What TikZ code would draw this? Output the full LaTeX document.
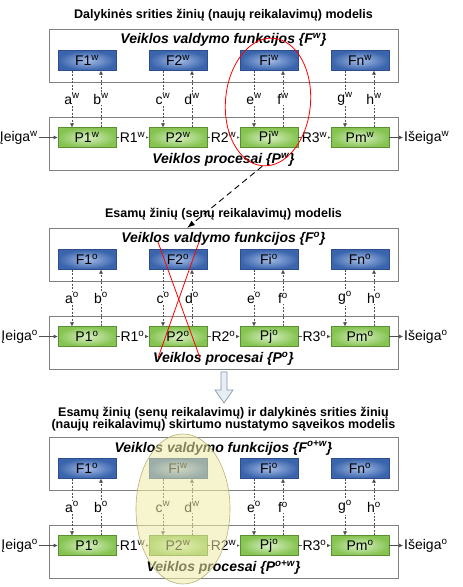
\documentclass[tikz,border=0pt]{standalone}
\usepackage{fontspec}
\setmainfont{Liberation Sans}
\usetikzlibrary{arrows.meta,shapes.geometric}

\newcommand\hsup[1]{\textsuperscript{#1}}

\definecolor{fdark}{HTML}{3A64AC}
\definecolor{flight}{HTML}{A4BCE6}
\definecolor{fborder}{HTML}{2C4E8C}
\definecolor{pdark}{HTML}{86C452}
\definecolor{plight}{HTML}{D8EFC2}
\definecolor{pborder}{HTML}{5E8E34}
\definecolor{boxgray}{HTML}{808080}
\definecolor{dashgray}{HTML}{505050}
\definecolor{ylw}{HTML}{F0ECA6}
\definecolor{ylwb}{HTML}{AFAC72}
\definecolor{arrfill}{HTML}{E8EEF5}
\definecolor{arrdraw}{HTML}{8796A8}

\tikzset{
  obox/.style={draw=boxgray, line width=0.8pt, fill=white, minimum width=349pt, minimum height=53pt, inner sep=0pt},
  fbox/.style={draw=fborder, line width=0.6pt, inner color=flight, outer color=fdark, minimum width=58pt, minimum height=19.5pt, inner sep=0pt, font=\fontsize{14}{14}\selectfont},
  pbox/.style={draw=pborder, line width=0.6pt, inner color=plight, outer color=pdark, minimum width=58pt, minimum height=19.5pt, inner sep=0pt, font=\fontsize{14}{14}\selectfont},
  lab/.style={fill=white, inner sep=0.8pt, font=\fontsize{14}{14}\selectfont},
  flowlab/.style={inner sep=1pt, font=\fontsize{14}{14}\selectfont},
  dl/.style={draw=dashgray, line width=0.5pt, dash pattern=on 2pt off 1.5pt, -{Latex[length=4pt,width=4pt]}},
  hl/.style={draw=dashgray, line width=0.6pt, -{Latex[length=4pt,width=4pt]}},
  titletext/.style={font=\bfseries\fontsize{12.5}{12}\selectfont, align=center},
  headtext/.style={font=\bfseries\itshape\fontsize{14}{14}\selectfont, inner sep=0pt},
}

% #1 section, #2 column, #3 x, #4 y offset, #5 F text, #6 P text, #7 down label, #8 up label
\newcommand\modelcol[8]{%
  \node[fbox] (#1F#2) at (#3,60.5+#4) {#5};
  \node[pbox] (#1P#2) at (#3,137.5+#4) {#6};
  \draw[dl] ([xshift=-15pt]#1F#2.south) -- node[lab]{#7} ([xshift=-15pt]#1P#2.north);
  \draw[dl] ([xshift=14pt]#1P#2.north) -- node[lab]{#8} ([xshift=14pt]#1F#2.south);
}

% #1 section, #2 y offset, #3 F heading sup, #4 P heading sup
\newcommand\modelframe[4]{%
  \node[obox] (#1U) at (223.5,55.5+#2) {};
  \node[obox] (#1L) at (223.5,143.5+#2) {};
  \node[headtext] (#1Uh) at (223.5,40+#2) {Veiklos valdymo funkcijos \{F\hsup{#3}\}};
  \node[headtext] (#1Lh) at (223.5,159.5+#2) {Veiklos procesai \{P\hsup{#4}\}};
}

% #1 section, #2 y offset, #3 in sup, #4 R1, #5 R2, #6 R3, #7 out sup
\newcommand\modelflow[7]{%
  \node[flowlab, anchor=east] (#1in) at (39,137.5+#2) {Įeiga\hsup{#3}};
  \node[flowlab, anchor=west] (#1out) at (403,137.5+#2) {Išeiga\hsup{#7}};
  \draw[hl] (#1in) -- (#1P1);
  \draw[hl] (#1P1) -- node[flowlab, fill=white]{#4} (#1P2);
  \draw[hl] (#1P2) -- node[flowlab, fill=white]{#5} (#1P3);
  \draw[hl] (#1P3) -- node[flowlab, fill=white]{#6} (#1P4);
  \draw[hl] (#1P4) -- (#1out);
}

\begin{document}
\begin{tikzpicture}[x=1pt,y=-1pt]
\useasboundingbox (0,0) rectangle (463,587);

% ---------- Section 1 ----------
\node[titletext] (t1) at (223.5,15) {Dalykinės srities žinių (naujų reikalavimų) modelis};
\modelframe{s1}{0}{w}{w}
\modelcol{s1}{1}{87}{0}{F1\hsup{w}}{P1\hsup{w}}{a\hsup{w}}{b\hsup{w}}
\modelcol{s1}{2}{178}{0}{F2\hsup{w}}{P2\hsup{w}}{c\hsup{w}}{d\hsup{w}}
\modelcol{s1}{3}{269}{0}{Fi\hsup{w}}{Pj\hsup{w}}{e\hsup{w}}{f\hsup{w}}
\modelcol{s1}{4}{360}{0}{Fn\hsup{w}}{Pm\hsup{w}}{g\hsup{w}}{h\hsup{w}}
\modelflow{s1}{0}{w}{R1\hsup{w}}{R2\hsup{w}}{R3\hsup{w}}{w}

% ---------- Section 2 ----------
\node[titletext] (t2) at (223.5,214) {Esamų žinių (senų reikalavimų) modelis};
\modelframe{s2}{199}{o}{o}
\modelcol{s2}{1}{87}{199}{F1\hsup{o}}{P1\hsup{o}}{a\hsup{o}}{b\hsup{o}}
\modelcol{s2}{2}{178}{199}{F2\hsup{o}}{P2\hsup{o}}{c\hsup{o}}{d\hsup{o}}
\modelcol{s2}{3}{269}{199}{Fi\hsup{o}}{Pj\hsup{o}}{e\hsup{o}}{f\hsup{o}}
\modelcol{s2}{4}{360}{199}{Fn\hsup{o}}{Pm\hsup{o}}{g\hsup{o}}{h\hsup{o}}
\modelflow{s2}{199}{o}{R1\hsup{o}}{R2\hsup{o}}{R3\hsup{o}}{o}

% ---------- Section 3 ----------
\node[titletext] (t3) at (223.5,419) {Esamų žinių (senų reikalavimų) ir dalykinės srities žinių\\(naujų reikalavimų) skirtumo nustatymo sąveikos modelis};
\modelframe{s3}{408}{o+w}{o+w}
\modelcol{s3}{1}{87}{408}{F1\hsup{o}}{P1\hsup{o}}{a\hsup{o}}{b\hsup{o}}
\modelcol{s3}{2}{178}{408}{Fi\hsup{w}}{P2\hsup{w}}{c\hsup{w}}{d\hsup{w}}
\modelcol{s3}{3}{269}{408}{Fi\hsup{o}}{Pj\hsup{o}}{e\hsup{o}}{f\hsup{o}}
\modelcol{s3}{4}{360}{408}{Fn\hsup{o}}{Pm\hsup{o}}{g\hsup{o}}{h\hsup{o}}
\modelflow{s3}{408}{o}{R1\hsup{w}}{R2\hsup{w}}{R3\hsup{o}}{o}

% ---------- annotations ----------
\node[ellipse, draw=red, line width=0.8pt, minimum width=85pt, minimum height=128pt, inner sep=0pt, rotate=-5] (redell) at (268,102) {};
\coordinate (arrend) at (187,228);
\draw[line width=0.9pt, dash pattern=on 6pt off 4pt, -{Latex[length=8pt,width=5.5pt]}] (redell.south) -- (arrend);

\draw[red, line width=0.8pt] (158,242) -- (200,358);
\draw[red, line width=0.8pt] (199,242) -- (158,358);

\draw[draw=arrdraw, fill=arrfill, line width=0.7pt]
  (221,372) -- (227,372) -- (227,390) -- (233,390) -- (224,403) -- (215,390) -- (221,390) -- cycle;

\node[ellipse, draw=ylwb, fill=ylw, fill opacity=0.55, draw opacity=0.9, line width=0.6pt, minimum width=94pt, minimum height=150pt, inner sep=0pt] (yell) at (183,509) {};
\end{tikzpicture}
\end{document}
